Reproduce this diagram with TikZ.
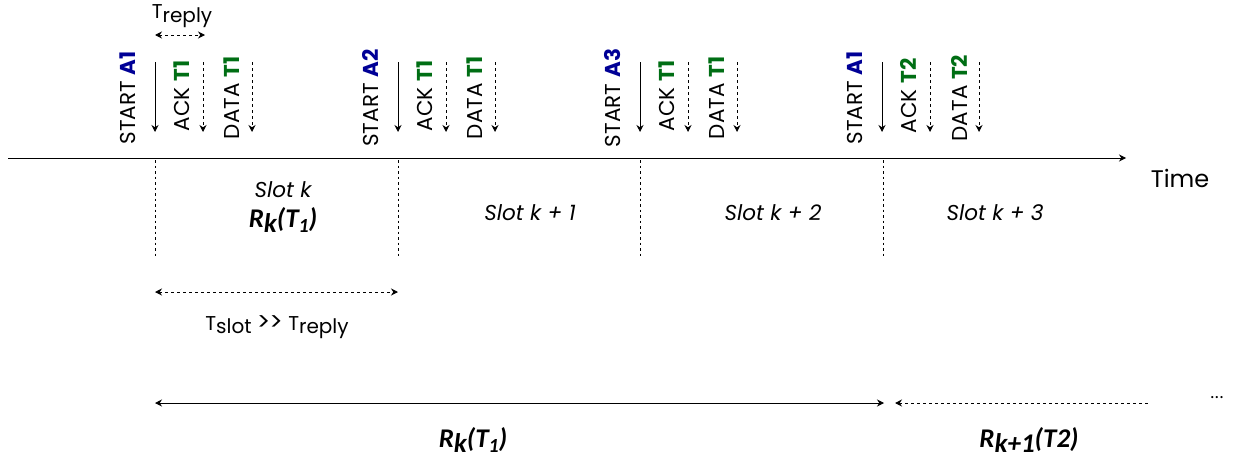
\documentclass[tikz,border=0pt]{standalone}
\usepackage{fontspec}
\setmainfont{Poppins}
\newfontfamily\calib{Carlito}
\usetikzlibrary{arrows.meta}
\definecolor{ablue}{RGB}{0,0,150}
\definecolor{tgreen}{RGB}{0,110,20}
\newcommand{\subone}{\raisebox{-0.35ex}{\fontsize{20}{20}\selectfont 1}}
\newcommand{\bigsep}{{\fontsize{25}{25}\selectfont >\kern-1pt>}}
\tikzset{
  tip/.style={-{Stealth[length=7pt,width=7pt]}},
  dtip/.style={{Stealth[length=7pt,width=7pt]}-{Stealth[length=7pt,width=7pt]}},
  ev/.style={rotate=90,font=\fontsize{21.5}{21.5}\selectfont,inner sep=0pt},
  slotlbl/.style={font=\fontsize{21.5}{21.5}\selectfont\itshape},
  rlbl/.style={font=\calib\fontsize{27}{27}\selectfont\bfseries\itshape},
  plain/.style={font=\fontsize{20}{20}\selectfont},
  sdash/.style={dash pattern=on 3pt off 3pt},
  sep/.style={line width=0.7pt,dash pattern=on 2.5pt off 3pt},
}
\begin{document}
\begin{tikzpicture}[x=1pt,y=-1pt,line width=1pt]
\useasboundingbox (0,0) rectangle (1246,463);
% time axis
\coordinate (ax0) at (8,158);
\coordinate (ax1) at (1126,158);
\draw[tip] (ax0) -- (ax1);
\node[font=\fontsize{24}{24}\selectfont] (time) at (1180,178) {Time};
% slot separators
\foreach \i/\x in {1/155,2/398,3/640,4/883}{
  \coordinate (s\i t) at (\x,160);
  \coordinate (s\i b) at (\x,258);
  \draw[sep] (s\i t) -- (s\i b);
}
% event groups
\foreach \g/\x/\a/\t in {1/155/A1/T1,2/398/A2/T1,3/640/A3/T1,4/882/A1/T2}{
  \coordinate (st\g) at (\x,62);
  \coordinate (sb\g) at (\x,132);
  \coordinate (at\g) at (\x+48,62);
  \coordinate (ab\g) at (\x+48,132);
  \coordinate (dt\g) at (\x+97,62);
  \coordinate (db\g) at (\x+97,132);
  \draw[tip] (st\g) -- (sb\g);
  \draw[tip,sdash] (at\g) -- (ab\g);
  \draw[tip,sdash] (dt\g) -- (db\g);
  \node[ev] (ls\g) at (\x-27,98) {START \textcolor{ablue}{\textbf{\a}}};
  \node[ev] (la\g) at (\x+27,96) {ACK \textcolor{tgreen}{\textbf{\t}}};
  \node[ev] (ld\g) at (\x+77,98) {DATA \textcolor{tgreen}{\textbf{\t}}};
}
% T reply
\coordinate (tr0) at (155,35);
\coordinate (tr1) at (205,35);
\draw[dtip,sdash] (tr0) -- (tr1);
\node[plain] (treply) at (182,16) {T\raisebox{-0.3ex}{reply}};
% slot labels
\node[slotlbl] (slk) at (283,190) {Slot k};
\node[rlbl] (rk1) at (283,220) {R\raisebox{-0.35ex}{k}(T\subone)};
\node[slotlbl] (slk1) at (530,213) {Slot k + 1};
\node[slotlbl] (slk2) at (773,213) {Slot k + 2};
\node[slotlbl] (slk3) at (995,213) {Slot k + 3};
% T slot
\coordinate (ts0) at (155,292);
\coordinate (ts1) at (398,292);
\draw[dtip,sdash] (ts0) -- (ts1);
\node[plain] (tslot) at (277,327) {T\raisebox{-0.3ex}{slot} \bigsep{} T\raisebox{-0.3ex}{reply}};
% bottom ranges
\coordinate (r0) at (155,403);
\coordinate (r1) at (884,403);
\draw[dtip] (r0) -- (r1);
\coordinate (q0) at (895,403);
\coordinate (q1) at (1150,403);
\draw[{Stealth[length=7pt,width=7pt]}-,sdash] (q0) -- (q1);
\node[font=\calib\fontsize{18}{18}\selectfont] (dots) at (1217,398) {...};
\node[rlbl] (rk) at (473,440) {R\raisebox{-0.35ex}{k}(T\subone)};
\node[rlbl] (rk2) at (1029,440) {R\raisebox{-0.35ex}{k+1}(T2)};
\end{tikzpicture}
\end{document}
